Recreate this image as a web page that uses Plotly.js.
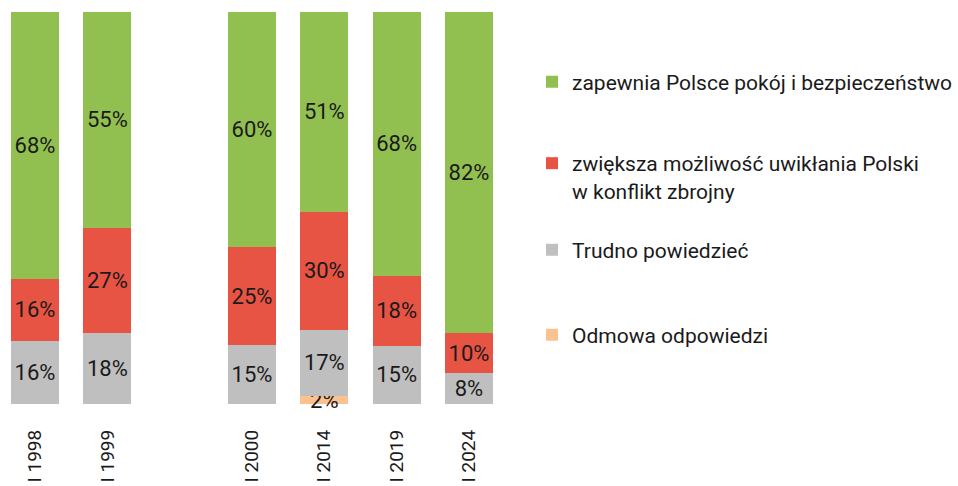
<!DOCTYPE html>
<html>
<head>
<meta charset="utf-8">
<script src="https://cdn.plot.ly/plotly-3.0.1.min.js"></script>
<style>html,body{margin:0;padding:0;background:#fff;}#chart{width:958px;height:486px;}</style>
</head>
<body>
<div id="chart"></div>
<script>
var categories = ["I 1998", "I 1999", " ", "I 2000", "I 2014", "I 2019", "I 2024"];
var seriesNames = [
  "zapewnia Polsce pokój i bezpieczeństwo",
  "zwiększa możliwość uwikłania Polski<br>w konflikt zbrojny",
  "Trudno powiedzieć",
  "Odmowa odpowiedzi"
];
var peaceValues   = [68, 55, null, 60, 51, 68, 82];
var conflictValues = [16, 27, null, 25, 30, 18, 10];
var hardToSayValues = [16, 18, null, 15, 17, 15, 8];
var refusedValues = [null, null, null, null, 2, null, null];

var colors = ["#92C050", "#E85444", "#BFBFBF", "#F9C28F"];
var FONT = "Roboto, 'Noto Sans', sans-serif";

function lbl(arr){ return arr.map(function(v){ return v == null ? "" : v + "%"; }); }

function mk(name, vals, color, legendId){
  return {
    type: "bar", x: categories, y: vals, name: name,
    marker: {color: color, line: {width: 0}},
    text: lbl(vals), textposition: "inside", insidetextanchor: "middle",
    texttemplate: "%{text}",
    textfont: {family: FONT, size: 22, color: "#1a1a1a"},
    hoverinfo: "skip", legend: legendId, cliponaxis: false
  };
}

var data = [
  mk(seriesNames[3], refusedValues, colors[3], "legend4"),
  mk(seriesNames[2], hardToSayValues, colors[2], "legend3"),
  mk(seriesNames[1], conflictValues, colors[1], "legend2"),
  mk(seriesNames[0], peaceValues, colors[0], "legend")
];

function leg(yc){
  return {xref: "container", yref: "container", x: 532/958, y: 1 - yc/486,
    xanchor: "left", yanchor: "middle", valign: "top",
    font: {family: FONT, size: 21, color: "#1a1a1a"},
    bgcolor: "rgba(0,0,0,0)", borderwidth: 0, itemclick: false};
}

var layout = {
  width: 958, height: 486,
  margin: {l: 0, r: 452, t: 12, b: 82, pad: 0},
  paper_bgcolor: "#fff", plot_bgcolor: "#fff",
  barmode: "stack", barnorm: "percent", bargap: 0.336,
  uniformtext: {mode: "show", minsize: 22},
  showlegend: true,
  xaxis: {type: "category", range: [-0.484, 6.512], showgrid: false, zeroline: false,
    showline: false, ticks: "", tickangle: -90, ticklabelstandoff: 21,
    tickfont: {family: FONT, size: 19, color: "#1a1a1a"}, fixedrange: true},
  yaxis: {range: [0, 100], visible: false, fixedrange: true},
  legend: leg(82),
  legend2: leg(177),
  legend3: leg(250),
  legend4: leg(335)
};

Plotly.newPlot("chart", data, layout, {displayModeBar: false, staticPlot: true});
</script>
</body>
</html>
